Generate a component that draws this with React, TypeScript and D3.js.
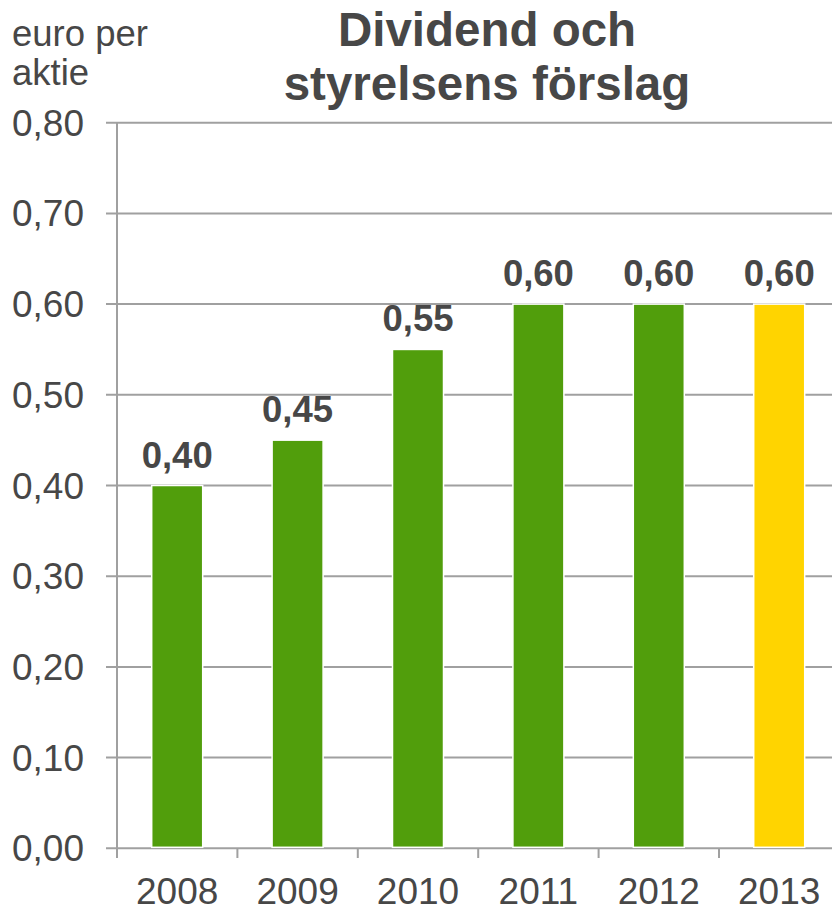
import React from "react";
import * as d3 from "d3";

const years = ["2008", "2009", "2010", "2011", "2012", "2013"];
const dividends = [0.4, 0.45, 0.55, 0.6, 0.6, 0.6];
const valueLabels = ["0,40", "0,45", "0,55", "0,60", "0,60", "0,60"];
const barColors = ["#519E0C", "#519E0C", "#519E0C", "#519E0C", "#519E0C", "#FFD400"];
const yTicks = [0, 0.1, 0.2, 0.3, 0.4, 0.5, 0.6, 0.7, 0.8];
const titleLines = ["Dividend och", "styrelsens förslag"];
const unitLines = ["euro per", "aktie"];

export default function App() {
  const W = 832, H = 909;
  const x0 = 117, x1 = 117 + 120.4 * 6;
  const y = d3.scaleLinear().domain([0, 0.8]).range([848.3, 122.7]);
  const x = d3.scaleBand().domain(years).range([x0, x1]).paddingInner(0.5765).paddingOuter(0.2882);
  const band = (x1 - x0) / years.length;
  const font = "'Liberation Sans', Arial, sans-serif";
  const text = "#474747";
  const grid = "#A0A0A0";
  const fmt = (v: number) => v.toFixed(2).replace(".", ",");
  return (
    <svg width={W} height={H} style={{ position: "absolute", left: 0, top: 0, background: "#fff" }} fontFamily={font}>
      {yTicks.map((t) => (
        <g key={t}>
          <line x1={106} x2={W} y1={y(t)} y2={y(t)} stroke={grid} strokeWidth={2} />
          <text x={84} y={y(t) + 13} textAnchor="end" fontSize={37} fill={text}>{fmt(t)}</text>
        </g>
      ))}
      <line x1={x0} x2={x0} y1={y(0.8)} y2={858} stroke={grid} strokeWidth={2} />
      {d3.range(years.length + 1).map((i) => (
        <line key={i} x1={x0 + i * band} x2={x0 + i * band} y1={y(0)} y2={858} stroke={grid} strokeWidth={2} />
      ))}
      {years.map((yr, i) => (
        <g key={yr}>
          <rect
            x={x(yr)!}
            y={y(dividends[i])}
            width={x.bandwidth()}
            height={y(0) - y(dividends[i]) - 1}
            fill={barColors[i]}
            stroke="#fff"
            strokeWidth={1.5}
          />
          <text x={x(yr)! + x.bandwidth() / 2} y={y(dividends[i]) - 18} textAnchor="middle" fontSize={36.5} fontWeight="bold" fill={text}>
            {valueLabels[i]}
          </text>
          <text x={x(yr)! + x.bandwidth() / 2} y={904} textAnchor="middle" fontSize={37} fill={text}>{yr}</text>
        </g>
      ))}
      {titleLines.map((l, i) => (
        <text key={l} x={487} y={46 + i * 54} textAnchor="middle" fontSize={47.5} fontWeight="bold" fill={text}>{l}</text>
      ))}
      {unitLines.map((l, i) => (
        <text key={l} x={12} y={46 + i * 39} fontSize={36.5} fill={text}>{l}</text>
      ))}
    </svg>
  );
}
